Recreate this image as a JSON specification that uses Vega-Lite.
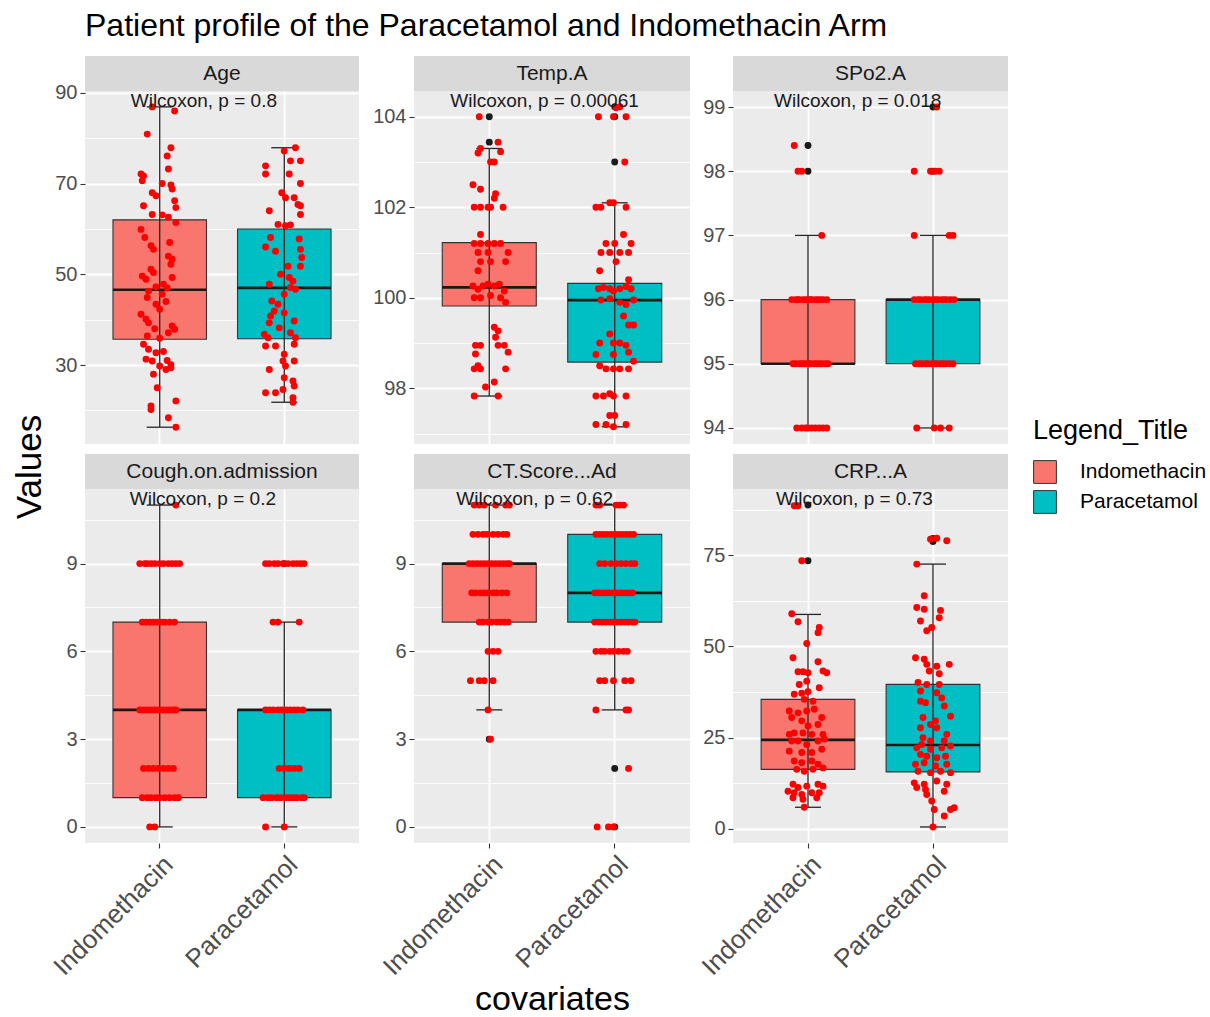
{
"$schema":"https://vega.github.io/schema/vega-lite/v6.json",
"background":"white",
"padding":{"left":0,"top":10,"right":0,"bottom":0},
"title":{"text":"Patient profile of the Paracetamol and Indomethacin Arm","anchor":"start","frame":"group","dx":85,"fontSize":32,"fontWeight":"normal","color":"#000000","font":"Liberation Sans","offset":13},
"datasets":{
"box":[
{"f":"Age","g":"Indomethacin","lo":16.3,"q1":35.7,"med":46.6,"q3":62.0,"hi":86.9},
{"f":"Age","g":"Paracetamol","lo":21.8,"q1":35.8,"med":47.0,"q3":60.0,"hi":77.9},
{"f":"Temp","g":"Indomethacin","lo":97.83,"q1":99.82,"med":100.23,"q3":101.22,"hi":103.3},
{"f":"Temp","g":"Paracetamol","lo":97.15,"q1":98.58,"med":99.95,"q3":100.32,"hi":102.1},
{"f":"SpO2","g":"Indomethacin","lo":94,"q1":95,"med":95,"q3":96,"hi":97},
{"f":"SpO2","g":"Paracetamol","lo":94,"q1":95,"med":96,"q3":96,"hi":97},
{"f":"Cough","g":"Indomethacin","lo":0,"q1":1,"med":4,"q3":7,"hi":11},
{"f":"Cough","g":"Paracetamol","lo":0,"q1":1,"med":4,"q3":4,"hi":7},
{"f":"CT","g":"Indomethacin","lo":4,"q1":7,"med":9,"q3":9,"hi":11},
{"f":"CT","g":"Paracetamol","lo":4,"q1":7,"med":8,"q3":10,"hi":11},
{"f":"CRP","g":"Indomethacin","lo":5.9,"q1":16.3,"med":24.4,"q3":35.5,"hi":58.8},
{"f":"CRP","g":"Paracetamol","lo":0.5,"q1":15.6,"med":23.0,"q3":39.6,"hi":72.6}
],
"out":[
{"f":"Temp","g":"Indomethacin","v":104.0},{"f":"Temp","g":"Indomethacin","v":103.44},
{"f":"Temp","g":"Paracetamol","v":104.22},{"f":"Temp","g":"Paracetamol","v":104.0},{"f":"Temp","g":"Paracetamol","v":103.0},
{"f":"SpO2","g":"Indomethacin","v":98.4},{"f":"SpO2","g":"Indomethacin","v":98},
{"f":"SpO2","g":"Paracetamol","v":99},{"f":"SpO2","g":"Paracetamol","v":98},
{"f":"Cough","g":"Paracetamol","v":9},
{"f":"CT","g":"Indomethacin","v":3},
{"f":"CT","g":"Paracetamol","v":2},{"f":"CT","g":"Paracetamol","v":0},
{"f":"CRP","g":"Indomethacin","v":88.8},{"f":"CRP","g":"Indomethacin","v":73.5},
{"f":"CRP","g":"Paracetamol","v":79.6},{"f":"CRP","g":"Paracetamol","v":78.8}
],
"wil":[
{"f":"Age","t":"Wilcoxon, p = 0.8","y":86.9},
{"f":"Temp","t":"Wilcoxon, p = 0.00061","y":104.22},
{"f":"SpO2","t":"Wilcoxon, p = 0.018","y":99},
{"f":"Cough","t":"Wilcoxon, p = 0.2","y":11},
{"f":"CT","t":"Wilcoxon, p = 0.62","y":11},
{"f":"CRP","t":"Wilcoxon, p = 0.73","y":88.8}
],
"age":[
{"g":"Indomethacin","v":86.9,"j":-0.06},{"g":"Indomethacin","v":86.0,"j":0.12},{"g":"Indomethacin","v":80.9,"j":-0.10},{"g":"Indomethacin","v":77.9,"j":0.09},{"g":"Indomethacin","v":76.1,"j":0.06},{"g":"Indomethacin","v":73.2,"j":0.07},{"g":"Indomethacin","v":72.1,"j":-0.15},{"g":"Indomethacin","v":71.7,"j":-0.13},{"g":"Indomethacin","v":70.6,"j":-0.14},{"g":"Indomethacin","v":70.0,"j":0.02},{"g":"Indomethacin","v":69.7,"j":0.09},{"g":"Indomethacin","v":68.8,"j":0.10},{"g":"Indomethacin","v":68.0,"j":-0.06},{"g":"Indomethacin","v":67.3,"j":-0.03},{"g":"Indomethacin","v":66.2,"j":0.12},{"g":"Indomethacin","v":64.7,"j":0.13},{"g":"Indomethacin","v":65.1,"j":-0.13},{"g":"Indomethacin","v":63.2,"j":-0.06},{"g":"Indomethacin","v":63.1,"j":0.02},{"g":"Indomethacin","v":62.6,"j":0.07},{"g":"Indomethacin","v":61.4,"j":0.13},{"g":"Indomethacin","v":59.9,"j":-0.15},{"g":"Indomethacin","v":58.1,"j":-0.12},{"g":"Indomethacin","v":57.0,"j":0.08},{"g":"Indomethacin","v":56.3,"j":-0.07},{"g":"Indomethacin","v":55.5,"j":-0.05},{"g":"Indomethacin","v":54.0,"j":0.07},{"g":"Indomethacin","v":53.3,"j":0.10},{"g":"Indomethacin","v":52.2,"j":0.09},{"g":"Indomethacin","v":51.1,"j":-0.07},{"g":"Indomethacin","v":50.4,"j":-0.05},{"g":"Indomethacin","v":49.6,"j":-0.14},{"g":"Indomethacin","v":48.9,"j":-0.11},{"g":"Indomethacin","v":49.3,"j":0.10},{"g":"Indomethacin","v":47.8,"j":0.03},{"g":"Indomethacin","v":47.2,"j":-0.03},{"g":"Indomethacin","v":47.0,"j":0.06},{"g":"Indomethacin","v":46.3,"j":-0.09},{"g":"Indomethacin","v":44.9,"j":-0.10},{"g":"Indomethacin","v":45.6,"j":0.02},{"g":"Indomethacin","v":44.0,"j":0.05},{"g":"Indomethacin","v":43.4,"j":-0.03},{"g":"Indomethacin","v":42.3,"j":0.00},{"g":"Indomethacin","v":41.2,"j":-0.15},{"g":"Indomethacin","v":40.1,"j":-0.11},{"g":"Indomethacin","v":39.3,"j":-0.09},{"g":"Indomethacin","v":38.6,"j":0.10},{"g":"Indomethacin","v":37.9,"j":0.12},{"g":"Indomethacin","v":38.0,"j":-0.04},{"g":"Indomethacin","v":37.1,"j":0.07},{"g":"Indomethacin","v":36.4,"j":-0.10},{"g":"Indomethacin","v":35.9,"j":0.00},{"g":"Indomethacin","v":34.6,"j":-0.13},{"g":"Indomethacin","v":33.5,"j":-0.09},{"g":"Indomethacin","v":33.0,"j":0.03},{"g":"Indomethacin","v":32.7,"j":-0.03},{"g":"Indomethacin","v":31.3,"j":-0.11},{"g":"Indomethacin","v":30.9,"j":-0.06},{"g":"Indomethacin","v":31.0,"j":0.06},{"g":"Indomethacin","v":30.1,"j":0.09},{"g":"Indomethacin","v":29.8,"j":0.00},{"g":"Indomethacin","v":29.4,"j":0.09},{"g":"Indomethacin","v":29.0,"j":0.05},{"g":"Indomethacin","v":28.0,"j":-0.05},{"g":"Indomethacin","v":25.0,"j":-0.02},{"g":"Indomethacin","v":22.1,"j":0.13},{"g":"Indomethacin","v":21.0,"j":-0.07},{"g":"Indomethacin","v":20.2,"j":-0.07},{"g":"Indomethacin","v":18.4,"j":0.07},{"g":"Indomethacin","v":16.3,"j":0.13},
{"g":"Paracetamol","v":77.9,"j":0.09},{"g":"Paracetamol","v":77.2,"j":0.00},{"g":"Paracetamol","v":75.0,"j":0.05},{"g":"Paracetamol","v":75.0,"j":0.13},{"g":"Paracetamol","v":73.9,"j":-0.15},{"g":"Paracetamol","v":72.1,"j":-0.15},{"g":"Paracetamol","v":72.1,"j":0.04},{"g":"Paracetamol","v":70.0,"j":0.13},{"g":"Paracetamol","v":68.0,"j":-0.02},{"g":"Paracetamol","v":66.9,"j":0.01},{"g":"Paracetamol","v":66.9,"j":0.08},{"g":"Paracetamol","v":65.4,"j":0.11},{"g":"Paracetamol","v":65.1,"j":0.13},{"g":"Paracetamol","v":64.0,"j":-0.12},{"g":"Paracetamol","v":63.2,"j":0.13},{"g":"Paracetamol","v":61.0,"j":-0.05},{"g":"Paracetamol","v":60.7,"j":0.01},{"g":"Paracetamol","v":60.9,"j":0.05},{"g":"Paracetamol","v":58.1,"j":-0.11},{"g":"Paracetamol","v":57.8,"j":0.12},{"g":"Paracetamol","v":56.0,"j":-0.15},{"g":"Paracetamol","v":55.1,"j":-0.07},{"g":"Paracetamol","v":55.5,"j":0.13},{"g":"Paracetamol","v":53.7,"j":0.14},{"g":"Paracetamol","v":51.8,"j":0.13},{"g":"Paracetamol","v":51.8,"j":0.03},{"g":"Paracetamol","v":50.0,"j":-0.03},{"g":"Paracetamol","v":49.3,"j":0.04},{"g":"Paracetamol","v":48.5,"j":0.07},{"g":"Paracetamol","v":47.8,"j":-0.12},{"g":"Paracetamol","v":47.1,"j":0.05},{"g":"Paracetamol","v":46.7,"j":0.09},{"g":"Paracetamol","v":45.6,"j":0.00},{"g":"Paracetamol","v":44.1,"j":-0.10},{"g":"Paracetamol","v":43.4,"j":-0.05},{"g":"Paracetamol","v":41.9,"j":-0.08},{"g":"Paracetamol","v":41.5,"j":0.00},{"g":"Paracetamol","v":40.8,"j":-0.11},{"g":"Paracetamol","v":39.7,"j":0.08},{"g":"Paracetamol","v":39.3,"j":-0.12},{"g":"Paracetamol","v":38.2,"j":-0.04},{"g":"Paracetamol","v":37.1,"j":0.05},{"g":"Paracetamol","v":36.8,"j":-0.16},{"g":"Paracetamol","v":36.0,"j":-0.13},{"g":"Paracetamol","v":36.0,"j":0.09},{"g":"Paracetamol","v":34.6,"j":0.08},{"g":"Paracetamol","v":34.2,"j":-0.07},{"g":"Paracetamol","v":34.2,"j":-0.15},{"g":"Paracetamol","v":32.4,"j":0.00},{"g":"Paracetamol","v":30.9,"j":-0.01},{"g":"Paracetamol","v":30.9,"j":0.08},{"g":"Paracetamol","v":29.8,"j":0.01},{"g":"Paracetamol","v":29.0,"j":-0.12},{"g":"Paracetamol","v":27.2,"j":0.00},{"g":"Paracetamol","v":26.5,"j":0.07},{"g":"Paracetamol","v":25.4,"j":0.08},{"g":"Paracetamol","v":24.6,"j":-0.01},{"g":"Paracetamol","v":23.9,"j":-0.15},{"g":"Paracetamol","v":23.9,"j":-0.07},{"g":"Paracetamol","v":22.8,"j":0.07},{"g":"Paracetamol","v":21.8,"j":0.07}
],
"temp":[
{"g":"Indomethacin","v":104.0,"j":-0.08},{"g":"Indomethacin","v":103.2,"j":-0.09},{"g":"Indomethacin","v":103.3,"j":-0.07},{"g":"Indomethacin","v":103.44,"j":0.07},{"g":"Indomethacin","v":103.23,"j":0.09},{"g":"Indomethacin","v":103.0,"j":0.01},{"g":"Indomethacin","v":103.0,"j":0.04},{"g":"Indomethacin","v":102.5,"j":-0.13},{"g":"Indomethacin","v":102.4,"j":-0.07},{"g":"Indomethacin","v":102.3,"j":0.05},{"g":"Indomethacin","v":102.2,"j":0.04},{"g":"Indomethacin","v":102.0,"j":-0.12},{"g":"Indomethacin","v":102.0,"j":-0.07},{"g":"Indomethacin","v":102.0,"j":-0.01},{"g":"Indomethacin","v":102.0,"j":0.01},{"g":"Indomethacin","v":102.0,"j":0.11},{"g":"Indomethacin","v":101.4,"j":-0.07},{"g":"Indomethacin","v":101.2,"j":-0.12},{"g":"Indomethacin","v":101.2,"j":-0.07},{"g":"Indomethacin","v":101.2,"j":-0.01},{"g":"Indomethacin","v":101.2,"j":0.04},{"g":"Indomethacin","v":101.2,"j":0.09},{"g":"Indomethacin","v":101.0,"j":-0.09},{"g":"Indomethacin","v":101.0,"j":-0.01},{"g":"Indomethacin","v":101.0,"j":0.15},{"g":"Indomethacin","v":100.8,"j":-0.07},{"g":"Indomethacin","v":100.8,"j":0.01},{"g":"Indomethacin","v":100.8,"j":0.13},{"g":"Indomethacin","v":100.6,"j":-0.09},{"g":"Indomethacin","v":100.26,"j":-0.13},{"g":"Indomethacin","v":100.19,"j":-0.09},{"g":"Indomethacin","v":100.26,"j":-0.05},{"g":"Indomethacin","v":100.3,"j":-0.01},{"g":"Indomethacin","v":100.26,"j":0.04},{"g":"Indomethacin","v":100.3,"j":0.08},{"g":"Indomethacin","v":100.15,"j":0.12},{"g":"Indomethacin","v":100.0,"j":-0.12},{"g":"Indomethacin","v":100.0,"j":-0.07},{"g":"Indomethacin","v":100.05,"j":0.01},{"g":"Indomethacin","v":100.0,"j":0.09},{"g":"Indomethacin","v":99.9,"j":0.13},{"g":"Indomethacin","v":99.35,"j":0.04},{"g":"Indomethacin","v":99.27,"j":0.07},{"g":"Indomethacin","v":99.13,"j":0.05},{"g":"Indomethacin","v":98.95,"j":-0.11},{"g":"Indomethacin","v":98.95,"j":-0.07},{"g":"Indomethacin","v":98.95,"j":0.07},{"g":"Indomethacin","v":98.95,"j":0.12},{"g":"Indomethacin","v":98.8,"j":0.15},{"g":"Indomethacin","v":98.76,"j":-0.11},{"g":"Indomethacin","v":98.5,"j":-0.09},{"g":"Indomethacin","v":98.43,"j":-0.07},{"g":"Indomethacin","v":98.43,"j":-0.12},{"g":"Indomethacin","v":98.43,"j":0.13},{"g":"Indomethacin","v":98.03,"j":-0.03},{"g":"Indomethacin","v":98.14,"j":0.04},{"g":"Indomethacin","v":97.83,"j":-0.12},{"g":"Indomethacin","v":97.83,"j":0.07},
{"g":"Paracetamol","v":104.0,"j":-0.13},{"g":"Paracetamol","v":104.0,"j":0.09},{"g":"Paracetamol","v":104.0,"j":-0.01},{"g":"Paracetamol","v":104.2,"j":0.01},{"g":"Paracetamol","v":104.22,"j":0.04},{"g":"Paracetamol","v":103.0,"j":0.08},{"g":"Paracetamol","v":102.0,"j":-0.15},{"g":"Paracetamol","v":102.0,"j":-0.11},{"g":"Paracetamol","v":102.1,"j":-0.04},{"g":"Paracetamol","v":102.1,"j":-0.01},{"g":"Paracetamol","v":102.0,"j":0.09},{"g":"Paracetamol","v":101.4,"j":0.07},{"g":"Paracetamol","v":101.2,"j":-0.07},{"g":"Paracetamol","v":101.2,"j":0.00},{"g":"Paracetamol","v":101.2,"j":0.13},{"g":"Paracetamol","v":101.0,"j":-0.11},{"g":"Paracetamol","v":101.0,"j":-0.04},{"g":"Paracetamol","v":101.0,"j":0.04},{"g":"Paracetamol","v":101.0,"j":0.11},{"g":"Paracetamol","v":100.8,"j":0.01},{"g":"Paracetamol","v":100.6,"j":-0.12},{"g":"Paracetamol","v":100.4,"j":0.11},{"g":"Paracetamol","v":100.2,"j":-0.13},{"g":"Paracetamol","v":100.23,"j":-0.09},{"g":"Paracetamol","v":100.2,"j":-0.04},{"g":"Paracetamol","v":100.15,"j":-0.01},{"g":"Paracetamol","v":100.2,"j":0.04},{"g":"Paracetamol","v":100.25,"j":0.09},{"g":"Paracetamol","v":100.2,"j":0.13},{"g":"Paracetamol","v":99.95,"j":-0.11},{"g":"Paracetamol","v":99.98,"j":-0.04},{"g":"Paracetamol","v":99.9,"j":0.04},{"g":"Paracetamol","v":99.85,"j":0.09},{"g":"Paracetamol","v":99.95,"j":0.15},{"g":"Paracetamol","v":99.6,"j":0.07},{"g":"Paracetamol","v":99.4,"j":0.11},{"g":"Paracetamol","v":99.4,"j":0.15},{"g":"Paracetamol","v":99.2,"j":-0.04},{"g":"Paracetamol","v":99.0,"j":-0.12},{"g":"Paracetamol","v":99.0,"j":-0.01},{"g":"Paracetamol","v":99.0,"j":0.04},{"g":"Paracetamol","v":98.95,"j":0.09},{"g":"Paracetamol","v":98.75,"j":-0.15},{"g":"Paracetamol","v":98.75,"j":-0.01},{"g":"Paracetamol","v":98.8,"j":0.11},{"g":"Paracetamol","v":98.6,"j":0.15},{"g":"Paracetamol","v":98.5,"j":-0.12},{"g":"Paracetamol","v":98.43,"j":-0.07},{"g":"Paracetamol","v":98.43,"j":-0.01},{"g":"Paracetamol","v":98.43,"j":0.04},{"g":"Paracetamol","v":98.43,"j":0.11},{"g":"Paracetamol","v":97.83,"j":-0.15},{"g":"Paracetamol","v":97.83,"j":-0.09},{"g":"Paracetamol","v":97.88,"j":-0.04},{"g":"Paracetamol","v":97.83,"j":-0.01},{"g":"Paracetamol","v":97.83,"j":0.09},{"g":"Paracetamol","v":97.4,"j":-0.04},{"g":"Paracetamol","v":97.4,"j":0.00},{"g":"Paracetamol","v":97.2,"j":-0.15},{"g":"Paracetamol","v":97.2,"j":-0.07},{"g":"Paracetamol","v":97.2,"j":0.09},{"g":"Paracetamol","v":97.15,"j":-0.01}
],
"spo2":[
{"g":"Indomethacin","v":98.4,"j":-0.11},{"g":"Indomethacin","v":98,"j":-0.08},{"g":"Indomethacin","v":98,"j":-0.05},{"g":"Indomethacin","v":97,"j":0.11},
{"g":"Indomethacin","v":96,"j":-0.13},{"g":"Indomethacin","v":96,"j":-0.1},{"g":"Indomethacin","v":96,"j":-0.08},{"g":"Indomethacin","v":96,"j":-0.07},{"g":"Indomethacin","v":96,"j":-0.04},{"g":"Indomethacin","v":96,"j":-0.02},{"g":"Indomethacin","v":96,"j":0.0},{"g":"Indomethacin","v":96,"j":0.02},{"g":"Indomethacin","v":96,"j":0.03},{"g":"Indomethacin","v":96,"j":0.06},{"g":"Indomethacin","v":96,"j":0.08},{"g":"Indomethacin","v":96,"j":0.1},{"g":"Indomethacin","v":96,"j":0.12},{"g":"Indomethacin","v":96,"j":0.15},
{"g":"Indomethacin","v":95,"j":-0.12},{"g":"Indomethacin","v":95,"j":-0.1},{"g":"Indomethacin","v":95,"j":-0.07},{"g":"Indomethacin","v":95,"j":-0.05},{"g":"Indomethacin","v":95,"j":-0.03},{"g":"Indomethacin","v":95,"j":-0.01},{"g":"Indomethacin","v":95,"j":0.01},{"g":"Indomethacin","v":95,"j":0.02},{"g":"Indomethacin","v":95,"j":0.05},{"g":"Indomethacin","v":95,"j":0.07},{"g":"Indomethacin","v":95,"j":0.09},{"g":"Indomethacin","v":95,"j":0.11},{"g":"Indomethacin","v":95,"j":0.14},{"g":"Indomethacin","v":95,"j":0.16},
{"g":"Indomethacin","v":94,"j":-0.09},{"g":"Indomethacin","v":94,"j":-0.05},{"g":"Indomethacin","v":94,"j":-0.02},{"g":"Indomethacin","v":94,"j":0.0},{"g":"Indomethacin","v":94,"j":0.03},{"g":"Indomethacin","v":94,"j":0.06},{"g":"Indomethacin","v":94,"j":0.09},{"g":"Indomethacin","v":94,"j":0.12},{"g":"Indomethacin","v":94,"j":0.15},
{"g":"Paracetamol","v":99,"j":0.03},{"g":"Paracetamol","v":98,"j":-0.15},{"g":"Paracetamol","v":98,"j":-0.02},{"g":"Paracetamol","v":98,"j":0.02},{"g":"Paracetamol","v":98,"j":0.05},{"g":"Paracetamol","v":97,"j":-0.15},{"g":"Paracetamol","v":97,"j":0.13},{"g":"Paracetamol","v":97,"j":0.16},
{"g":"Paracetamol","v":96,"j":-0.15},{"g":"Paracetamol","v":96,"j":-0.12},{"g":"Paracetamol","v":96,"j":-0.1},{"g":"Paracetamol","v":96,"j":-0.07},{"g":"Paracetamol","v":96,"j":-0.05},{"g":"Paracetamol","v":96,"j":-0.03},{"g":"Paracetamol","v":96,"j":0.0},{"g":"Paracetamol","v":96,"j":0.02},{"g":"Paracetamol","v":96,"j":0.04},{"g":"Paracetamol","v":96,"j":0.07},{"g":"Paracetamol","v":96,"j":0.09},{"g":"Paracetamol","v":96,"j":0.11},{"g":"Paracetamol","v":96,"j":0.14},{"g":"Paracetamol","v":96,"j":0.17},
{"g":"Paracetamol","v":95,"j":-0.14},{"g":"Paracetamol","v":95,"j":-0.11},{"g":"Paracetamol","v":95,"j":-0.09},{"g":"Paracetamol","v":95,"j":-0.06},{"g":"Paracetamol","v":95,"j":-0.04},{"g":"Paracetamol","v":95,"j":-0.01},{"g":"Paracetamol","v":95,"j":0.01},{"g":"Paracetamol","v":95,"j":0.03},{"g":"Paracetamol","v":95,"j":0.06},{"g":"Paracetamol","v":95,"j":0.08},{"g":"Paracetamol","v":95,"j":0.1},{"g":"Paracetamol","v":95,"j":0.13},{"g":"Paracetamol","v":95,"j":0.16},
{"g":"Paracetamol","v":94,"j":-0.13},{"g":"Paracetamol","v":94,"j":0.01},{"g":"Paracetamol","v":94,"j":0.06},{"g":"Paracetamol","v":94,"j":0.13}
],
"cough":[
{"g":"Indomethacin","v":11,"j":0.13},
{"g":"Indomethacin","v":9,"j":-0.16},{"g":"Indomethacin","v":9,"j":-0.12},{"g":"Indomethacin","v":9,"j":-0.1},{"g":"Indomethacin","v":9,"j":-0.07},{"g":"Indomethacin","v":9,"j":-0.04},{"g":"Indomethacin","v":9,"j":0.0},{"g":"Indomethacin","v":9,"j":0.03},{"g":"Indomethacin","v":9,"j":0.07},{"g":"Indomethacin","v":9,"j":0.1},{"g":"Indomethacin","v":9,"j":0.13},{"g":"Indomethacin","v":9,"j":0.16},
{"g":"Indomethacin","v":7,"j":-0.14},{"g":"Indomethacin","v":7,"j":-0.11},{"g":"Indomethacin","v":7,"j":-0.08},{"g":"Indomethacin","v":7,"j":-0.05},{"g":"Indomethacin","v":7,"j":-0.02},{"g":"Indomethacin","v":7,"j":0.01},{"g":"Indomethacin","v":7,"j":0.04},{"g":"Indomethacin","v":7,"j":0.08},{"g":"Indomethacin","v":7,"j":0.12},
{"g":"Indomethacin","v":4,"j":-0.16},{"g":"Indomethacin","v":4,"j":-0.13},{"g":"Indomethacin","v":4,"j":-0.1},{"g":"Indomethacin","v":4,"j":-0.07},{"g":"Indomethacin","v":4,"j":-0.04},{"g":"Indomethacin","v":4,"j":-0.01},{"g":"Indomethacin","v":4,"j":0.02},{"g":"Indomethacin","v":4,"j":0.05},{"g":"Indomethacin","v":4,"j":0.08},{"g":"Indomethacin","v":4,"j":0.11},{"g":"Indomethacin","v":4,"j":0.13},
{"g":"Indomethacin","v":2,"j":-0.13},{"g":"Indomethacin","v":2,"j":-0.09},{"g":"Indomethacin","v":2,"j":-0.05},{"g":"Indomethacin","v":2,"j":-0.01},{"g":"Indomethacin","v":2,"j":0.03},{"g":"Indomethacin","v":2,"j":0.07},{"g":"Indomethacin","v":2,"j":0.11},
{"g":"Indomethacin","v":1,"j":-0.14},{"g":"Indomethacin","v":1,"j":-0.1},{"g":"Indomethacin","v":1,"j":-0.07},{"g":"Indomethacin","v":1,"j":-0.03},{"g":"Indomethacin","v":1,"j":0.0},{"g":"Indomethacin","v":1,"j":0.04},{"g":"Indomethacin","v":1,"j":0.08},{"g":"Indomethacin","v":1,"j":0.12},{"g":"Indomethacin","v":1,"j":0.15},
{"g":"Indomethacin","v":0,"j":-0.08},{"g":"Indomethacin","v":0,"j":-0.04},
{"g":"Paracetamol","v":9,"j":-0.15},{"g":"Paracetamol","v":9,"j":-0.12},{"g":"Paracetamol","v":9,"j":-0.08},{"g":"Paracetamol","v":9,"j":-0.05},{"g":"Paracetamol","v":9,"j":-0.01},{"g":"Paracetamol","v":9,"j":0.03},{"g":"Paracetamol","v":9,"j":0.07},{"g":"Paracetamol","v":9,"j":0.1},{"g":"Paracetamol","v":9,"j":0.13},{"g":"Paracetamol","v":9,"j":0.16},
{"g":"Paracetamol","v":7,"j":-0.09},{"g":"Paracetamol","v":7,"j":-0.05},{"g":"Paracetamol","v":7,"j":0.12},
{"g":"Paracetamol","v":4,"j":-0.15},{"g":"Paracetamol","v":4,"j":-0.12},{"g":"Paracetamol","v":4,"j":-0.09},{"g":"Paracetamol","v":4,"j":-0.05},{"g":"Paracetamol","v":4,"j":-0.02},{"g":"Paracetamol","v":4,"j":0.02},{"g":"Paracetamol","v":4,"j":0.05},{"g":"Paracetamol","v":4,"j":0.08},{"g":"Paracetamol","v":4,"j":0.11},{"g":"Paracetamol","v":4,"j":0.15},
{"g":"Paracetamol","v":2,"j":-0.04},{"g":"Paracetamol","v":2,"j":0.0},{"g":"Paracetamol","v":2,"j":0.04},{"g":"Paracetamol","v":2,"j":0.08},{"g":"Paracetamol","v":2,"j":0.12},
{"g":"Paracetamol","v":1,"j":-0.17},{"g":"Paracetamol","v":1,"j":-0.13},{"g":"Paracetamol","v":1,"j":-0.1},{"g":"Paracetamol","v":1,"j":-0.06},{"g":"Paracetamol","v":1,"j":-0.03},{"g":"Paracetamol","v":1,"j":0.01},{"g":"Paracetamol","v":1,"j":0.04},{"g":"Paracetamol","v":1,"j":0.07},{"g":"Paracetamol","v":1,"j":0.1},{"g":"Paracetamol","v":1,"j":0.14},{"g":"Paracetamol","v":1,"j":0.16},
{"g":"Paracetamol","v":0,"j":-0.15},{"g":"Paracetamol","v":0,"j":0.0}
],
"ct":[
{"g":"Indomethacin","v":11,"j":-0.12},{"g":"Indomethacin","v":11,"j":-0.08},{"g":"Indomethacin","v":11,"j":-0.04},{"g":"Indomethacin","v":11,"j":0.05},{"g":"Indomethacin","v":11,"j":0.13},{"g":"Indomethacin","v":11,"j":0.16},
{"g":"Indomethacin","v":10,"j":-0.13},{"g":"Indomethacin","v":10,"j":-0.09},{"g":"Indomethacin","v":10,"j":-0.05},{"g":"Indomethacin","v":10,"j":-0.02},{"g":"Indomethacin","v":10,"j":0.03},{"g":"Indomethacin","v":10,"j":0.07},{"g":"Indomethacin","v":10,"j":0.11},{"g":"Indomethacin","v":10,"j":0.14},
{"g":"Indomethacin","v":9,"j":-0.16},{"g":"Indomethacin","v":9,"j":-0.13},{"g":"Indomethacin","v":9,"j":-0.1},{"g":"Indomethacin","v":9,"j":-0.07},{"g":"Indomethacin","v":9,"j":-0.04},{"g":"Indomethacin","v":9,"j":-0.01},{"g":"Indomethacin","v":9,"j":0.02},{"g":"Indomethacin","v":9,"j":0.05},{"g":"Indomethacin","v":9,"j":0.08},{"g":"Indomethacin","v":9,"j":0.11},{"g":"Indomethacin","v":9,"j":0.14},{"g":"Indomethacin","v":9,"j":0.16},
{"g":"Indomethacin","v":8,"j":-0.14},{"g":"Indomethacin","v":8,"j":-0.11},{"g":"Indomethacin","v":8,"j":-0.07},{"g":"Indomethacin","v":8,"j":-0.04},{"g":"Indomethacin","v":8,"j":-0.01},{"g":"Indomethacin","v":8,"j":0.03},{"g":"Indomethacin","v":8,"j":0.06},{"g":"Indomethacin","v":8,"j":0.1},{"g":"Indomethacin","v":8,"j":0.14},
{"g":"Indomethacin","v":7,"j":-0.08},{"g":"Indomethacin","v":7,"j":-0.05},{"g":"Indomethacin","v":7,"j":-0.01},{"g":"Indomethacin","v":7,"j":0.02},{"g":"Indomethacin","v":7,"j":0.06},{"g":"Indomethacin","v":7,"j":0.09},{"g":"Indomethacin","v":7,"j":0.12},{"g":"Indomethacin","v":7,"j":0.15},
{"g":"Indomethacin","v":6,"j":-0.01},{"g":"Indomethacin","v":6,"j":0.03},{"g":"Indomethacin","v":6,"j":0.07},
{"g":"Indomethacin","v":5,"j":-0.15},{"g":"Indomethacin","v":5,"j":-0.08},{"g":"Indomethacin","v":5,"j":-0.04},{"g":"Indomethacin","v":5,"j":0.03},
{"g":"Indomethacin","v":4,"j":-0.01},{"g":"Indomethacin","v":3,"j":0.01},
{"g":"Paracetamol","v":11,"j":-0.15},{"g":"Paracetamol","v":11,"j":-0.12},{"g":"Paracetamol","v":11,"j":0.01},{"g":"Paracetamol","v":11,"j":0.04},{"g":"Paracetamol","v":11,"j":0.07},
{"g":"Paracetamol","v":10,"j":-0.15},{"g":"Paracetamol","v":10,"j":-0.12},{"g":"Paracetamol","v":10,"j":-0.09},{"g":"Paracetamol","v":10,"j":-0.06},{"g":"Paracetamol","v":10,"j":-0.03},{"g":"Paracetamol","v":10,"j":0.0},{"g":"Paracetamol","v":10,"j":0.03},{"g":"Paracetamol","v":10,"j":0.06},{"g":"Paracetamol","v":10,"j":0.09},{"g":"Paracetamol","v":10,"j":0.12},{"g":"Paracetamol","v":10,"j":0.15},
{"g":"Paracetamol","v":9,"j":-0.12},{"g":"Paracetamol","v":9,"j":-0.08},{"g":"Paracetamol","v":9,"j":-0.03},{"g":"Paracetamol","v":9,"j":0.01},{"g":"Paracetamol","v":9,"j":0.05},{"g":"Paracetamol","v":9,"j":0.09},{"g":"Paracetamol","v":9,"j":0.13},{"g":"Paracetamol","v":9,"j":0.16},
{"g":"Paracetamol","v":8,"j":-0.16},{"g":"Paracetamol","v":8,"j":-0.13},{"g":"Paracetamol","v":8,"j":-0.1},{"g":"Paracetamol","v":8,"j":-0.07},{"g":"Paracetamol","v":8,"j":-0.04},{"g":"Paracetamol","v":8,"j":-0.01},{"g":"Paracetamol","v":8,"j":0.02},{"g":"Paracetamol","v":8,"j":0.05},{"g":"Paracetamol","v":8,"j":0.08},{"g":"Paracetamol","v":8,"j":0.11},{"g":"Paracetamol","v":8,"j":0.14},
{"g":"Paracetamol","v":7,"j":-0.16},{"g":"Paracetamol","v":7,"j":-0.13},{"g":"Paracetamol","v":7,"j":-0.1},{"g":"Paracetamol","v":7,"j":-0.07},{"g":"Paracetamol","v":7,"j":-0.04},{"g":"Paracetamol","v":7,"j":-0.01},{"g":"Paracetamol","v":7,"j":0.02},{"g":"Paracetamol","v":7,"j":0.05},{"g":"Paracetamol","v":7,"j":0.08},{"g":"Paracetamol","v":7,"j":0.11},{"g":"Paracetamol","v":7,"j":0.14},{"g":"Paracetamol","v":7,"j":0.16},
{"g":"Paracetamol","v":6,"j":-0.15},{"g":"Paracetamol","v":6,"j":-0.11},{"g":"Paracetamol","v":6,"j":-0.08},{"g":"Paracetamol","v":6,"j":-0.04},{"g":"Paracetamol","v":6,"j":-0.01},{"g":"Paracetamol","v":6,"j":0.03},{"g":"Paracetamol","v":6,"j":0.07},{"g":"Paracetamol","v":6,"j":0.1},
{"g":"Paracetamol","v":5,"j":-0.12},{"g":"Paracetamol","v":5,"j":-0.08},{"g":"Paracetamol","v":5,"j":-0.01},{"g":"Paracetamol","v":5,"j":0.08},{"g":"Paracetamol","v":5,"j":0.13},
{"g":"Paracetamol","v":4,"j":-0.15},{"g":"Paracetamol","v":4,"j":0.09},{"g":"Paracetamol","v":4,"j":0.11},
{"g":"Paracetamol","v":2,"j":0.11},
{"g":"Paracetamol","v":0,"j":-0.14},{"g":"Paracetamol","v":0,"j":-0.05},{"g":"Paracetamol","v":0,"j":-0.01}
],
"crp":[
{"g":"Indomethacin","v":88.6,"j":-0.11},{"g":"Indomethacin","v":88.6,"j":-0.08},{"g":"Indomethacin","v":73.5,"j":-0.05},{"g":"Indomethacin","v":59.0,"j":-0.13},{"g":"Indomethacin","v":56.8,"j":-0.08},{"g":"Indomethacin","v":55.2,"j":0.09},{"g":"Indomethacin","v":53.8,"j":0.08},{"g":"Indomethacin","v":50.8,"j":-0.01},{"g":"Indomethacin","v":46.9,"j":-0.12},{"g":"Indomethacin","v":45.8,"j":0.08},{"g":"Indomethacin","v":43.1,"j":-0.08},{"g":"Indomethacin","v":43.1,"j":-0.04},{"g":"Indomethacin","v":42.8,"j":0.0},{"g":"Indomethacin","v":43.3,"j":0.12},{"g":"Indomethacin","v":42.8,"j":0.15},{"g":"Indomethacin","v":40.5,"j":-0.01},{"g":"Indomethacin","v":39.6,"j":-0.07},{"g":"Indomethacin","v":38.7,"j":0.09},{"g":"Indomethacin","v":36.9,"j":-0.11},{"g":"Indomethacin","v":37.2,"j":-0.05},{"g":"Indomethacin","v":37.6,"j":0.0},{"g":"Indomethacin","v":35.0,"j":0.04},{"g":"Indomethacin","v":35.5,"j":-0.03},{"g":"Indomethacin","v":32.3,"j":-0.15},{"g":"Indomethacin","v":31.8,"j":-0.08},{"g":"Indomethacin","v":32.3,"j":-0.01},{"g":"Indomethacin","v":32.8,"j":0.05},{"g":"Indomethacin","v":30.5,"j":-0.13},{"g":"Indomethacin","v":29.6,"j":-0.05},{"g":"Indomethacin","v":30.5,"j":0.11},{"g":"Indomethacin","v":28.2,"j":0.0},{"g":"Indomethacin","v":28.6,"j":0.08},{"g":"Indomethacin","v":25.9,"j":-0.15},{"g":"Indomethacin","v":26.3,"j":-0.11},{"g":"Indomethacin","v":26.3,"j":-0.04},{"g":"Indomethacin","v":25.9,"j":0.03},{"g":"Indomethacin","v":25.9,"j":0.12},{"g":"Indomethacin","v":24.1,"j":-0.13},{"g":"Indomethacin","v":24.1,"j":-0.08},{"g":"Indomethacin","v":23.1,"j":-0.01},{"g":"Indomethacin","v":24.1,"j":0.08},{"g":"Indomethacin","v":24.6,"j":0.13},{"g":"Indomethacin","v":21.3,"j":-0.15},{"g":"Indomethacin","v":20.9,"j":-0.05},{"g":"Indomethacin","v":20.9,"j":0.03},{"g":"Indomethacin","v":21.8,"j":0.11},{"g":"Indomethacin","v":18.6,"j":-0.11},{"g":"Indomethacin","v":18.1,"j":-0.05},{"g":"Indomethacin","v":18.6,"j":0.03},{"g":"Indomethacin","v":17.7,"j":0.08},{"g":"Indomethacin","v":16.3,"j":-0.09},{"g":"Indomethacin","v":15.8,"j":-0.03},{"g":"Indomethacin","v":16.3,"j":0.04},{"g":"Indomethacin","v":16.7,"j":0.12},{"g":"Indomethacin","v":12.2,"j":-0.12},{"g":"Indomethacin","v":11.3,"j":-0.08},{"g":"Indomethacin","v":11.7,"j":-0.01},{"g":"Indomethacin","v":12.2,"j":0.08},{"g":"Indomethacin","v":11.7,"j":0.12},{"g":"Indomethacin","v":10.3,"j":-0.16},{"g":"Indomethacin","v":9.9,"j":-0.11},{"g":"Indomethacin","v":9.4,"j":-0.05},{"g":"Indomethacin","v":9.9,"j":0.03},{"g":"Indomethacin","v":9.9,"j":0.09},{"g":"Indomethacin","v":8.5,"j":-0.12},{"g":"Indomethacin","v":8.1,"j":-0.04},{"g":"Indomethacin","v":8.5,"j":0.07},{"g":"Indomethacin","v":5.9,"j":-0.03},
{"g":"Paracetamol","v":79.4,"j":-0.02},{"g":"Paracetamol","v":79.7,"j":0.03},{"g":"Paracetamol","v":79.0,"j":0.11},{"g":"Paracetamol","v":72.6,"j":-0.13},{"g":"Paracetamol","v":63.9,"j":-0.07},{"g":"Paracetamol","v":60.7,"j":-0.13},{"g":"Paracetamol","v":60.2,"j":-0.07},{"g":"Paracetamol","v":59.9,"j":0.06},{"g":"Paracetamol","v":57.9,"j":0.05},{"g":"Paracetamol","v":57.0,"j":-0.10},{"g":"Paracetamol","v":54.3,"j":-0.05},{"g":"Paracetamol","v":55.2,"j":-0.01},{"g":"Paracetamol","v":46.9,"j":-0.14},{"g":"Paracetamol","v":46.5,"j":-0.07},{"g":"Paracetamol","v":45.1,"j":-0.05},{"g":"Paracetamol","v":44.6,"j":0.03},{"g":"Paracetamol","v":45.1,"j":0.13},{"g":"Paracetamol","v":43.3,"j":-0.03},{"g":"Paracetamol","v":42.5,"j":0.05},{"g":"Paracetamol","v":40.1,"j":-0.12},{"g":"Paracetamol","v":39.6,"j":-0.05},{"g":"Paracetamol","v":39.6,"j":0.05},{"g":"Paracetamol","v":37.8,"j":-0.10},{"g":"Paracetamol","v":37.3,"j":0.03},{"g":"Paracetamol","v":35.9,"j":0.07},{"g":"Paracetamol","v":35.0,"j":-0.10},{"g":"Paracetamol","v":34.6,"j":-0.06},{"g":"Paracetamol","v":33.7,"j":0.09},{"g":"Paracetamol","v":30.9,"j":0.14},{"g":"Paracetamol","v":30.5,"j":-0.08},{"g":"Paracetamol","v":29.6,"j":0.02},{"g":"Paracetamol","v":28.6,"j":-0.02},{"g":"Paracetamol","v":27.7,"j":0.03},{"g":"Paracetamol","v":27.7,"j":-0.10},{"g":"Paracetamol","v":25.9,"j":0.11},{"g":"Paracetamol","v":25.0,"j":-0.08},{"g":"Paracetamol","v":24.1,"j":-0.02},{"g":"Paracetamol","v":23.1,"j":-0.09},{"g":"Paracetamol","v":24.1,"j":0.09},{"g":"Paracetamol","v":22.2,"j":-0.13},{"g":"Paracetamol","v":21.8,"j":-0.02},{"g":"Paracetamol","v":22.2,"j":0.07},{"g":"Paracetamol","v":22.7,"j":0.14},{"g":"Paracetamol","v":20.4,"j":-0.10},{"g":"Paracetamol","v":19.9,"j":-0.05},{"g":"Paracetamol","v":19.5,"j":0.03},{"g":"Paracetamol","v":19.9,"j":0.10},{"g":"Paracetamol","v":17.7,"j":-0.14},{"g":"Paracetamol","v":18.1,"j":-0.07},{"g":"Paracetamol","v":17.2,"j":0.02},{"g":"Paracetamol","v":17.7,"j":0.11},{"g":"Paracetamol","v":15.8,"j":-0.12},{"g":"Paracetamol","v":15.4,"j":-0.02},{"g":"Paracetamol","v":15.8,"j":0.06},{"g":"Paracetamol","v":15.4,"j":0.14},{"g":"Paracetamol","v":12.6,"j":-0.15},{"g":"Paracetamol","v":12.2,"j":-0.07},{"g":"Paracetamol","v":13.1,"j":0.03},{"g":"Paracetamol","v":12.2,"j":0.11},{"g":"Paracetamol","v":11.3,"j":-0.13},{"g":"Paracetamol","v":10.8,"j":-0.06},{"g":"Paracetamol","v":10.3,"j":0.09},{"g":"Paracetamol","v":9.4,"j":-0.05},{"g":"Paracetamol","v":7.6,"j":-0.01},{"g":"Paracetamol","v":5.3,"j":0.01},{"g":"Paracetamol","v":5.8,"j":0.17},{"g":"Paracetamol","v":5.3,"j":0.14},{"g":"Paracetamol","v":3.5,"j":0.09},{"g":"Paracetamol","v":0.5,"j":0.0}
]
},
"bounds":"flush",
"align":"each",
"spacing":0,
"columns":7,
"concat":[
{"width":60,"height":1,"data":{"values":[]},"mark":"text","encoding":{}},
{"width":25,"height":1,"data":{"values":[]},"mark":"text","encoding":{}},
{"width":274,"height":35,"view":{"fill":"#D9D9D9","stroke":null},"data":{"values":[{"s":"Age"}]},"mark":{"type":"text","fontSize":21,"font":"Liberation Sans","color":"#1A1A1A"},"encoding":{"text":{"field":"s"}}},
{"width":55,"height":1,"data":{"values":[]},"mark":"text","encoding":{}},
{"width":276,"height":35,"view":{"fill":"#D9D9D9","stroke":null},"data":{"values":[{"s":"Temp.A"}]},"mark":{"type":"text","fontSize":21,"font":"Liberation Sans","color":"#1A1A1A"},"encoding":{"text":{"field":"s"}}},
{"width":43,"height":1,"data":{"values":[]},"mark":"text","encoding":{}},
{"width":275,"height":35,"view":{"fill":"#D9D9D9","stroke":null},"data":{"values":[{"s":"SPo2.A"}]},"mark":{"type":"text","fontSize":21,"font":"Liberation Sans","color":"#1A1A1A"},"encoding":{"text":{"field":"s"}}},

{"width":1,"height":1,"data":{"values":[]},"mark":"text","encoding":{}},
{"width":1,"height":1,"data":{"values":[]},"mark":"text","encoding":{}},
{"width":274,"height":353,"view":{"fill":"#EBEBEB","stroke":null},
"resolve":{"scale":{"xOffset":"independent"}},
"encoding":{"x":{"field":"g","type":"nominal","title":null,"scale":{"domain":["Indomethacin","Paracetamol"],"paddingInner":0,"paddingOuter":0.1},"axis":{"labels":false,"ticks":false,"domain":false,"grid":true,"gridColor":"#FFFFFF","gridWidth":1.8,"bandPosition":0.5,"title":null}}},
"layer":[
{"data":{"name":"box"},"transform":[{"filter":"datum.f=='Age'"}],"mark":{"type":"bar","width":93.5,"stroke":"#333333","strokeWidth":1.1},"encoding":{"y":{"field":"q1","type":"quantitative","title":null,"scale":{"domain":[12.6,90.4],"nice":false,"zero":false},"axis":{"values":[20,30,40,50,60,70,80,90],"labelExpr":"(datum.value-30)%20==0 ? datum.label : ''","grid":true,"gridWidth":{"condition":{"test":"(datum.value-30)%20==0","value":1.8},"value":0.9},"tickOpacity":{"condition":{"test":"(datum.value-30)%20==0","value":1},"value":0}}},"y2":{"field":"q3"},"fill":{"field":"g","type":"nominal","title":"Legend_Title","scale":{"domain":["Indomethacin","Paracetamol"],"range":["#F8766D","#00BFC4"]},"legend":{"orient":"none","legendX":1033,"legendY":362}}}},
{"data":{"name":"box"},"transform":[{"filter":"datum.f=='Age'"}],"mark":{"type":"tick","size":93.5,"thickness":2.6,"color":"#1A1A1A","opacity":1},"encoding":{"y":{"field":"med","type":"quantitative","title":null}}},
{"data":{"name":"box"},"transform":[{"filter":"datum.f=='Age'"}],"mark":{"type":"rule","color":"#262626","strokeWidth":1.3},"encoding":{"y":{"field":"lo","type":"quantitative","title":null},"y2":{"field":"hi"}}},
{"data":{"name":"box"},"transform":[{"filter":"datum.f=='Age'"}],"mark":{"type":"tick","size":26,"thickness":1.3,"color":"#262626","opacity":1},"encoding":{"y":{"field":"lo","type":"quantitative","title":null}}},
{"data":{"name":"box"},"transform":[{"filter":"datum.f=='Age'"}],"mark":{"type":"tick","size":26,"thickness":1.3,"color":"#262626","opacity":1},"encoding":{"y":{"field":"hi","type":"quantitative","title":null}}},
{"data":{"name":"out"},"transform":[{"filter":"datum.f=='Age'"}],"mark":{"type":"circle","size":48,"color":"#1A1A1A","opacity":1},"encoding":{"y":{"field":"v","type":"quantitative","title":null}}},
{"data":{"name":"age"},"mark":{"type":"circle","size":48,"color":"#FF0000","opacity":1},"encoding":{"y":{"field":"v","type":"quantitative","title":null},"xOffset":{"field":"j","type":"quantitative","scale":{"domain":[-0.5,0.5],"range":[0,124.5]}}}},
{"data":{"name":"wil"},"transform":[{"filter":"datum.f=='Age'"}],"mark":{"type":"text","align":"left","baseline":"alphabetic","dx":-29,"fontSize":19,"font":"Liberation Sans","color":"#1A1A1A"},"encoding":{"x":{"datum":"Indomethacin"},"y":{"field":"y","type":"quantitative","title":null},"text":{"field":"t"}}}
]},
{"width":1,"height":1,"data":{"values":[]},"mark":"text","encoding":{}},
{"width":276,"height":353,"view":{"fill":"#EBEBEB","stroke":null},
"resolve":{"scale":{"xOffset":"independent"}},
"encoding":{"x":{"field":"g","type":"nominal","title":null,"scale":{"domain":["Indomethacin","Paracetamol"],"paddingInner":0,"paddingOuter":0.1},"axis":{"labels":false,"ticks":false,"domain":false,"grid":true,"gridColor":"#FFFFFF","gridWidth":1.8,"bandPosition":0.5,"title":null}}},
"layer":[
{"data":{"name":"box"},"transform":[{"filter":"datum.f=='Temp'"}],"mark":{"type":"bar","width":94,"stroke":"#333333","strokeWidth":1.1},"encoding":{"y":{"field":"q1","type":"quantitative","title":null,"scale":{"domain":[96.77,104.57],"nice":false,"zero":false},"axis":{"values":[97,98,99,100,101,102,103,104],"labelExpr":"datum.value%2==0 ? datum.label : ''","grid":true,"gridWidth":{"condition":{"test":"datum.value%2==0","value":1.8},"value":0.9},"tickOpacity":{"condition":{"test":"datum.value%2==0","value":1},"value":0}}},"y2":{"field":"q3"},"fill":{"field":"g","type":"nominal","title":"Legend_Title","scale":{"domain":["Indomethacin","Paracetamol"],"range":["#F8766D","#00BFC4"]},"legend":{"orient":"none","legendX":1033,"legendY":362}}}},
{"data":{"name":"box"},"transform":[{"filter":"datum.f=='Temp'"}],"mark":{"type":"tick","size":94,"thickness":2.6,"color":"#1A1A1A","opacity":1},"encoding":{"y":{"field":"med","type":"quantitative","title":null}}},
{"data":{"name":"box"},"transform":[{"filter":"datum.f=='Temp'"}],"mark":{"type":"rule","color":"#262626","strokeWidth":1.3},"encoding":{"y":{"field":"lo","type":"quantitative","title":null},"y2":{"field":"hi"}}},
{"data":{"name":"box"},"transform":[{"filter":"datum.f=='Temp'"}],"mark":{"type":"tick","size":26,"thickness":1.3,"color":"#262626","opacity":1},"encoding":{"y":{"field":"lo","type":"quantitative","title":null}}},
{"data":{"name":"box"},"transform":[{"filter":"datum.f=='Temp'"}],"mark":{"type":"tick","size":26,"thickness":1.3,"color":"#262626","opacity":1},"encoding":{"y":{"field":"hi","type":"quantitative","title":null}}},
{"data":{"name":"out"},"transform":[{"filter":"datum.f=='Temp'"}],"mark":{"type":"circle","size":48,"color":"#1A1A1A","opacity":1},"encoding":{"y":{"field":"v","type":"quantitative","title":null}}},
{"data":{"name":"temp"},"mark":{"type":"circle","size":48,"color":"#FF0000","opacity":1},"encoding":{"y":{"field":"v","type":"quantitative","title":null},"xOffset":{"field":"j","type":"quantitative","scale":{"domain":[-0.5,0.5],"range":[0,125.5]}}}},
{"data":{"name":"wil"},"transform":[{"filter":"datum.f=='Temp'"}],"mark":{"type":"text","align":"left","baseline":"alphabetic","dx":-39,"fontSize":19,"font":"Liberation Sans","color":"#1A1A1A"},"encoding":{"x":{"datum":"Indomethacin"},"y":{"field":"y","type":"quantitative","title":null},"text":{"field":"t"}}}
]},
{"width":1,"height":1,"data":{"values":[]},"mark":"text","encoding":{}},
{"width":275,"height":353,"view":{"fill":"#EBEBEB","stroke":null},
"resolve":{"scale":{"xOffset":"independent"}},
"encoding":{"x":{"field":"g","type":"nominal","title":null,"scale":{"domain":["Indomethacin","Paracetamol"],"paddingInner":0,"paddingOuter":0.1},"axis":{"labels":false,"ticks":false,"domain":false,"grid":true,"gridColor":"#FFFFFF","gridWidth":1.8,"bandPosition":0.5,"title":null}}},
"layer":[
{"data":{"name":"box"},"transform":[{"filter":"datum.f=='SpO2'"}],"mark":{"type":"bar","width":93.75,"stroke":"#333333","strokeWidth":1.1},"encoding":{"y":{"field":"q1","type":"quantitative","title":null,"scale":{"domain":[93.75,99.25],"nice":false,"zero":false},"axis":{"values":[94,94.5,95,95.5,96,96.5,97,97.5,98,98.5,99],"labelExpr":"datum.value%1==0 ? format(datum.value,'d') : ''","grid":true,"gridWidth":{"condition":{"test":"datum.value%1==0","value":1.8},"value":0.9},"tickOpacity":{"condition":{"test":"datum.value%1==0","value":1},"value":0}}},"y2":{"field":"q3"},"fill":{"field":"g","type":"nominal","title":"Legend_Title","scale":{"domain":["Indomethacin","Paracetamol"],"range":["#F8766D","#00BFC4"]},"legend":{"orient":"none","legendX":1033,"legendY":362}}}},
{"data":{"name":"box"},"transform":[{"filter":"datum.f=='SpO2'"}],"mark":{"type":"tick","size":94,"thickness":2.6,"color":"#1A1A1A","opacity":1},"encoding":{"y":{"field":"med","type":"quantitative","title":null}}},
{"data":{"name":"box"},"transform":[{"filter":"datum.f=='SpO2'"}],"mark":{"type":"rule","color":"#262626","strokeWidth":1.3},"encoding":{"y":{"field":"lo","type":"quantitative","title":null},"y2":{"field":"hi"}}},
{"data":{"name":"box"},"transform":[{"filter":"datum.f=='SpO2'"}],"mark":{"type":"tick","size":26,"thickness":1.3,"color":"#262626","opacity":1},"encoding":{"y":{"field":"lo","type":"quantitative","title":null}}},
{"data":{"name":"box"},"transform":[{"filter":"datum.f=='SpO2'"}],"mark":{"type":"tick","size":26,"thickness":1.3,"color":"#262626","opacity":1},"encoding":{"y":{"field":"hi","type":"quantitative","title":null}}},
{"data":{"name":"out"},"transform":[{"filter":"datum.f=='SpO2'"}],"mark":{"type":"circle","size":48,"color":"#1A1A1A","opacity":1},"encoding":{"y":{"field":"v","type":"quantitative","title":null}}},
{"data":{"name":"spo2"},"mark":{"type":"circle","size":48,"color":"#FF0000","opacity":1},"encoding":{"y":{"field":"v","type":"quantitative","title":null},"xOffset":{"field":"j","type":"quantitative","scale":{"domain":[-0.5,0.5],"range":[0,125]}}}},
{"data":{"name":"wil"},"transform":[{"filter":"datum.f=='SpO2'"}],"mark":{"type":"text","align":"left","baseline":"alphabetic","dx":-34,"fontSize":19,"font":"Liberation Sans","color":"#1A1A1A"},"encoding":{"x":{"datum":"Indomethacin"},"y":{"field":"y","type":"quantitative","title":null},"text":{"field":"t"}}}
]},

{"width":60,"height":10,"view":{"stroke":null},"data":{"values":[{"t":"Values"}]},"mark":{"type":"text","angle":270,"fontSize":35,"font":"Liberation Sans","color":"#000000","dx":-18},"encoding":{"text":{"field":"t"}}},
{"width":1,"height":1,"data":{"values":[]},"mark":"text","encoding":{}},
{"width":1,"height":1,"data":{"values":[]},"mark":"text","encoding":{}},
{"width":1,"height":1,"data":{"values":[]},"mark":"text","encoding":{}},
{"width":1,"height":1,"data":{"values":[]},"mark":"text","encoding":{}},
{"width":1,"height":1,"data":{"values":[]},"mark":"text","encoding":{}},
{"width":1,"height":1,"data":{"values":[]},"mark":"text","encoding":{}},

{"width":1,"height":1,"data":{"values":[]},"mark":"text","encoding":{}},
{"width":1,"height":1,"data":{"values":[]},"mark":"text","encoding":{}},
{"width":274,"height":35,"view":{"fill":"#D9D9D9","stroke":null},"data":{"values":[{"s":"Cough.on.admission"}]},"mark":{"type":"text","fontSize":21,"font":"Liberation Sans","color":"#1A1A1A"},"encoding":{"text":{"field":"s"}}},
{"width":1,"height":1,"data":{"values":[]},"mark":"text","encoding":{}},
{"width":276,"height":35,"view":{"fill":"#D9D9D9","stroke":null},"data":{"values":[{"s":"CT.Score...Ad"}]},"mark":{"type":"text","fontSize":21,"font":"Liberation Sans","color":"#1A1A1A"},"encoding":{"text":{"field":"s"}}},
{"width":1,"height":1,"data":{"values":[]},"mark":"text","encoding":{}},
{"width":275,"height":35,"view":{"fill":"#D9D9D9","stroke":null},"data":{"values":[{"s":"CRP...A"}]},"mark":{"type":"text","fontSize":21,"font":"Liberation Sans","color":"#1A1A1A"},"encoding":{"text":{"field":"s"}}},

{"width":1,"height":1,"data":{"values":[]},"mark":"text","encoding":{}},
{"width":1,"height":1,"data":{"values":[]},"mark":"text","encoding":{}},
{"width":274,"height":354,"view":{"fill":"#EBEBEB","stroke":null},
"resolve":{"scale":{"xOffset":"independent"}},
"encoding":{"x":{"field":"g","type":"nominal","title":null,"scale":{"domain":["Indomethacin","Paracetamol"],"paddingInner":0,"paddingOuter":0.1},"axis":{"labelAngle":-45,"labelAlign":"right","labelBaseline":"top","labelFontSize":26,"ticks":true,"domain":false,"grid":true,"gridColor":"#FFFFFF","gridWidth":1.8,"bandPosition":0.5,"title":null}}},
"layer":[
{"data":{"name":"box"},"transform":[{"filter":"datum.f=='Cough'"}],"mark":{"type":"bar","width":93.5,"stroke":"#333333","strokeWidth":1.1},"encoding":{"y":{"field":"q1","type":"quantitative","title":null,"scale":{"domain":[-0.55,11.55],"nice":false,"zero":false},"axis":{"values":[0,1.5,3,4.5,6,7.5,9,10.5],"labelExpr":"datum.value%3==0 ? format(datum.value,'d') : ''","grid":true,"gridWidth":{"condition":{"test":"datum.value%3==0","value":1.8},"value":0.9},"tickOpacity":{"condition":{"test":"datum.value%3==0","value":1},"value":0}}},"y2":{"field":"q3"},"fill":{"field":"g","type":"nominal","title":"Legend_Title","scale":{"domain":["Indomethacin","Paracetamol"],"range":["#F8766D","#00BFC4"]},"legend":{"orient":"none","legendX":1033,"legendY":362}}}},
{"data":{"name":"box"},"transform":[{"filter":"datum.f=='Cough'"}],"mark":{"type":"tick","size":93.5,"thickness":2.6,"color":"#1A1A1A","opacity":1},"encoding":{"y":{"field":"med","type":"quantitative","title":null}}},
{"data":{"name":"box"},"transform":[{"filter":"datum.f=='Cough'"}],"mark":{"type":"rule","color":"#262626","strokeWidth":1.3},"encoding":{"y":{"field":"lo","type":"quantitative","title":null},"y2":{"field":"hi"}}},
{"data":{"name":"box"},"transform":[{"filter":"datum.f=='Cough'"}],"mark":{"type":"tick","size":26,"thickness":1.3,"color":"#262626","opacity":1},"encoding":{"y":{"field":"lo","type":"quantitative","title":null}}},
{"data":{"name":"box"},"transform":[{"filter":"datum.f=='Cough'"}],"mark":{"type":"tick","size":26,"thickness":1.3,"color":"#262626","opacity":1},"encoding":{"y":{"field":"hi","type":"quantitative","title":null}}},
{"data":{"name":"out"},"transform":[{"filter":"datum.f=='Cough'"}],"mark":{"type":"circle","size":48,"color":"#1A1A1A","opacity":1},"encoding":{"y":{"field":"v","type":"quantitative","title":null}}},
{"data":{"name":"cough"},"mark":{"type":"circle","size":48,"color":"#FF0000","opacity":1},"encoding":{"y":{"field":"v","type":"quantitative","title":null},"xOffset":{"field":"j","type":"quantitative","scale":{"domain":[-0.5,0.5],"range":[0,124.5]}}}},
{"data":{"name":"wil"},"transform":[{"filter":"datum.f=='Cough'"}],"mark":{"type":"text","align":"left","baseline":"alphabetic","dx":-30,"fontSize":19,"font":"Liberation Sans","color":"#1A1A1A"},"encoding":{"x":{"datum":"Indomethacin"},"y":{"field":"y","type":"quantitative","title":null},"text":{"field":"t"}}}
]},
{"width":1,"height":1,"data":{"values":[]},"mark":"text","encoding":{}},
{"width":276,"height":354,"view":{"fill":"#EBEBEB","stroke":null},
"resolve":{"scale":{"xOffset":"independent"}},
"encoding":{"x":{"field":"g","type":"nominal","title":"covariates","scale":{"domain":["Indomethacin","Paracetamol"],"paddingInner":0,"paddingOuter":0.1},"axis":{"labelAngle":-45,"labelAlign":"right","labelBaseline":"top","labelFontSize":26,"ticks":true,"domain":false,"grid":true,"gridColor":"#FFFFFF","gridWidth":1.8,"bandPosition":0.5,"title":"covariates","titleFontSize":34,"titlePadding":3}}},
"layer":[
{"data":{"name":"box"},"transform":[{"filter":"datum.f=='CT'"}],"mark":{"type":"bar","width":94,"stroke":"#333333","strokeWidth":1.1},"encoding":{"y":{"field":"q1","type":"quantitative","title":null,"scale":{"domain":[-0.55,11.55],"nice":false,"zero":false},"axis":{"values":[0,1.5,3,4.5,6,7.5,9,10.5],"labelExpr":"datum.value%3==0 ? format(datum.value,'d') : ''","grid":true,"gridWidth":{"condition":{"test":"datum.value%3==0","value":1.8},"value":0.9},"tickOpacity":{"condition":{"test":"datum.value%3==0","value":1},"value":0}}},"y2":{"field":"q3"},"fill":{"field":"g","type":"nominal","title":"Legend_Title","scale":{"domain":["Indomethacin","Paracetamol"],"range":["#F8766D","#00BFC4"]},"legend":{"orient":"none","legendX":1033,"legendY":362}}}},
{"data":{"name":"box"},"transform":[{"filter":"datum.f=='CT'"}],"mark":{"type":"tick","size":94,"thickness":2.6,"color":"#1A1A1A","opacity":1},"encoding":{"y":{"field":"med","type":"quantitative","title":null}}},
{"data":{"name":"box"},"transform":[{"filter":"datum.f=='CT'"}],"mark":{"type":"rule","color":"#262626","strokeWidth":1.3},"encoding":{"y":{"field":"lo","type":"quantitative","title":null},"y2":{"field":"hi"}}},
{"data":{"name":"box"},"transform":[{"filter":"datum.f=='CT'"}],"mark":{"type":"tick","size":26,"thickness":1.3,"color":"#262626","opacity":1},"encoding":{"y":{"field":"lo","type":"quantitative","title":null}}},
{"data":{"name":"box"},"transform":[{"filter":"datum.f=='CT'"}],"mark":{"type":"tick","size":26,"thickness":1.3,"color":"#262626","opacity":1},"encoding":{"y":{"field":"hi","type":"quantitative","title":null}}},
{"data":{"name":"out"},"transform":[{"filter":"datum.f=='CT'"}],"mark":{"type":"circle","size":48,"color":"#1A1A1A","opacity":1},"encoding":{"y":{"field":"v","type":"quantitative","title":null}}},
{"data":{"name":"ct"},"mark":{"type":"circle","size":48,"color":"#FF0000","opacity":1},"encoding":{"y":{"field":"v","type":"quantitative","title":null},"xOffset":{"field":"j","type":"quantitative","scale":{"domain":[-0.5,0.5],"range":[0,125.5]}}}},
{"data":{"name":"wil"},"transform":[{"filter":"datum.f=='CT'"}],"mark":{"type":"text","align":"left","baseline":"alphabetic","dx":-33,"fontSize":19,"font":"Liberation Sans","color":"#1A1A1A"},"encoding":{"x":{"datum":"Indomethacin"},"y":{"field":"y","type":"quantitative","title":null},"text":{"field":"t"}}}
]},
{"width":1,"height":1,"data":{"values":[]},"mark":"text","encoding":{}},
{"width":275,"height":354,"view":{"fill":"#EBEBEB","stroke":null},
"resolve":{"scale":{"xOffset":"independent"}},
"encoding":{"x":{"field":"g","type":"nominal","title":null,"scale":{"domain":["Indomethacin","Paracetamol"],"paddingInner":0,"paddingOuter":0.1},"axis":{"labelAngle":-45,"labelAlign":"right","labelBaseline":"top","labelFontSize":26,"ticks":true,"domain":false,"grid":true,"gridColor":"#FFFFFF","gridWidth":1.8,"bandPosition":0.5,"title":null}}},
"layer":[
{"data":{"name":"box"},"transform":[{"filter":"datum.f=='CRP'"}],"mark":{"type":"bar","width":93.75,"stroke":"#333333","strokeWidth":1.1},"encoding":{"y":{"field":"q1","type":"quantitative","title":null,"scale":{"domain":[-3.9,93.2],"nice":false,"zero":false},"axis":{"values":[0,12.5,25,37.5,50,62.5,75,87.5],"labelExpr":"datum.value%25==0 ? format(datum.value,'d') : ''","grid":true,"gridWidth":{"condition":{"test":"datum.value%25==0","value":1.8},"value":0.9},"tickOpacity":{"condition":{"test":"datum.value%25==0","value":1},"value":0}}},"y2":{"field":"q3"},"fill":{"field":"g","type":"nominal","title":"Legend_Title","scale":{"domain":["Indomethacin","Paracetamol"],"range":["#F8766D","#00BFC4"]},"legend":{"orient":"none","legendX":1033,"legendY":362}}}},
{"data":{"name":"box"},"transform":[{"filter":"datum.f=='CRP'"}],"mark":{"type":"tick","size":94,"thickness":2.6,"color":"#1A1A1A","opacity":1},"encoding":{"y":{"field":"med","type":"quantitative","title":null}}},
{"data":{"name":"box"},"transform":[{"filter":"datum.f=='CRP'"}],"mark":{"type":"rule","color":"#262626","strokeWidth":1.3},"encoding":{"y":{"field":"lo","type":"quantitative","title":null},"y2":{"field":"hi"}}},
{"data":{"name":"box"},"transform":[{"filter":"datum.f=='CRP'"}],"mark":{"type":"tick","size":26,"thickness":1.3,"color":"#262626","opacity":1},"encoding":{"y":{"field":"lo","type":"quantitative","title":null}}},
{"data":{"name":"box"},"transform":[{"filter":"datum.f=='CRP'"}],"mark":{"type":"tick","size":26,"thickness":1.3,"color":"#262626","opacity":1},"encoding":{"y":{"field":"hi","type":"quantitative","title":null}}},
{"data":{"name":"out"},"transform":[{"filter":"datum.f=='CRP'"}],"mark":{"type":"circle","size":48,"color":"#1A1A1A","opacity":1},"encoding":{"y":{"field":"v","type":"quantitative","title":null}}},
{"data":{"name":"crp"},"mark":{"type":"circle","size":48,"color":"#FF0000","opacity":1},"encoding":{"y":{"field":"v","type":"quantitative","title":null},"xOffset":{"field":"j","type":"quantitative","scale":{"domain":[-0.5,0.5],"range":[0,125]}}}},
{"data":{"name":"wil"},"transform":[{"filter":"datum.f=='CRP'"}],"mark":{"type":"text","align":"left","baseline":"alphabetic","dx":-32,"fontSize":19,"font":"Liberation Sans","color":"#1A1A1A"},"encoding":{"x":{"datum":"Indomethacin"},"y":{"field":"y","type":"quantitative","title":null},"text":{"field":"t"}}}
]}
],
"config":{
"font":"Liberation Sans",
"view":{"stroke":null},
"axis":{"domain":false,"tickColor":"#333333","tickSize":5,"tickWidth":1.1,"labelColor":"#4D4D4D","labelFontSize":20,"labelFont":"Liberation Sans","gridColor":"#FFFFFF","titleFont":"Liberation Sans","titleFontWeight":"normal","titleFontSize":33,"titleColor":"#000000","labelPadding":3},
"legend":{"titleFontSize":27,"titleFont":"Liberation Sans","titleFontWeight":"normal","titleColor":"#000000","labelFontSize":21,"labelFont":"Liberation Sans","labelColor":"#000000","symbolType":"square","symbolSize":520,"symbolStrokeColor":"#333333","symbolStrokeWidth":1,"symbolOpacity":1,"rowPadding":2,"titlePadding":15,"labelOffset":23}
}
}
